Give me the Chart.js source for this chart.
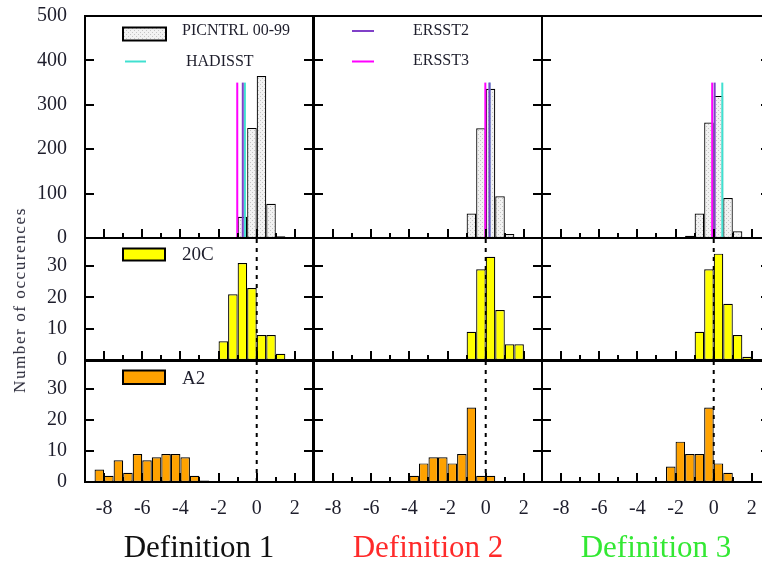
<!DOCTYPE html>
<html>
<head>
<meta charset="utf-8">
<script src="https://cdn.jsdelivr.net/npm/chart.js@4.4.1/dist/chart.umd.min.js"></script>
<style>
  html, body { margin: 0; padding: 0; background: #fff; }
  body { width: 762px; height: 563px; overflow: hidden; position: relative; font-family: "Liberation Serif", "Times New Roman", serif; }
  canvas { position: absolute; left: 0; top: 0; }
  .ytitle { position: absolute; left: 20px; top: 300px; transform: translate(-50%, -50%) rotate(-90deg);
            font-family: "Liberation Serif", "Times New Roman", serif;
            white-space: nowrap; font-size: 17px; letter-spacing: 1.6px; color: #2a2a3a; }
  .deftitle { position: absolute; top: 531px; width: 228px; text-align: center; font-size: 31px; line-height: 31px;
              font-family: "Liberation Serif", "Times New Roman", serif; white-space: nowrap; }
</style>
</head>
<body>
<div id="wrap"></div>
<div class="ytitle">Number of occurences</div>
<div class="deftitle" style="left:85px;color:#111;">Definition 1</div>
<div class="deftitle" style="left:314px;color:#ff2a2a;">Definition 2</div>
<div class="deftitle" style="left:542px;color:#33e833;">Definition 3</div>
<script>
// ===========================
// Data (bin centres, bin width 0.5)
// ===========================
const X_TICKS = [-8, -7, -6, -5, -4, -3, -2, -1, 0, 1, 2];
const X_LABELS = [-8, -6, -4, -2, 0, 2];

// PICNTRL 00-99 (top row)
const PI_D1_X = [-0.75, -0.25, 0.25, 0.75, 1.25];
const PI_D1_Y = [48, 248, 365, 77, 4];
const PI_D2_X = [-0.75, -0.25, 0.25, 0.75, 1.25];
const PI_D2_Y = [55, 247, 336, 94, 9];
const PI_D3_X = [-1.25, -0.75, -0.25, 0.25, 0.75, 1.25];
const PI_D3_Y = [5, 55, 260, 320, 90, 15];

// Observed values (vertical lines, top row), one per definition
const HADISST = [-0.62, 0.2, 0.45];
const ERSST2 = [-0.73, 0.2, 0.05];
const ERSST3 = [-1.02, -0.02, -0.08];
const OBS_HEIGHT = 350;

// 20C (middle row)
const C20_D1_X = [-1.75, -1.25, -0.75, -0.25, 0.25, 0.75, 1.25];
const C20_D1_Y = [6, 21, 31, 23, 8, 8, 2];
const C20_D2_X = [-0.75, -0.25, 0.25, 0.75, 1.25, 1.75];
const C20_D2_Y = [9, 29, 33, 16, 5, 5];
const C20_D3_X = [-0.75, -0.25, 0.25, 0.75, 1.25, 1.75];
const C20_D3_Y = [9, 29, 34, 18, 8, 1];

// A2 (bottom row)
const A2_D1_X = [-8.25, -7.75, -7.25, -6.75, -6.25, -5.75, -5.25, -4.75, -4.25, -3.75, -3.25, -2.75];
const A2_D1_Y = [4, 2, 7, 3, 9, 7, 8, 9, 9, 8, 2, 0.5];
const A2_D2_X = [-3.75, -3.25, -2.75, -2.25, -1.75, -1.25, -0.75, -0.25, 0.25];
const A2_D2_Y = [2, 6, 8, 8, 6, 9, 24, 2, 2];
const A2_D3_X = [-2.25, -1.75, -1.25, -0.75, -0.25, 0.25, 0.75];
const A2_D3_Y = [5, 13, 9, 9, 24, 6, 3];

const ROW_YMAX = [500, 39, 39];
const ROW_YTICKS = [[100, 200, 300, 400], [10, 20, 30], [10, 20, 30]];
const ROW_YLABELS = [[0, 100, 200, 300, 400, 500], [0, 10, 20, 30], [0, 10, 20, 30]];

// ===========================
// Layout
// ===========================
const CANVAS_W = 780, CANVAS_H = 563;
const COL_LEFT = [85, 314, 542];
const COL_W = 228;
const ROW_TOP = [16, 238, 361];
const ROW_BOTTOM = [238, 360, 482];
const X_MIN = -9, X_MAX = 2.95;

const TEXT_COLOR = '#1e1e2c';
const SERIF = '"Liberation Serif", "Times New Roman", serif';
const CYAN = '#40e0d0';
const PURPLE = '#8040c8';
const MAGENTA = '#ff00ff';
const YELLOW = '#ffff00';
const ORANGE = '#ffa200';

// dotted grey fill for the control run
function dotPattern() {
  const c = document.createElement('canvas');
  c.width = 4; c.height = 4;
  const g = c.getContext('2d');
  g.fillStyle = '#f2f2f2';
  g.fillRect(0, 0, 4, 4);
  g.fillStyle = '#c4c4c4';
  g.fillRect(0, 0, 1, 1);
  g.fillRect(2, 2, 1, 1);
  return g.createPattern(c, 'repeat');
}
const GREY_DOTS = dotPattern();

// ===========================
// Frame / ticks / legend plugin
// ===========================
const framePlugin = {
  id: 'frame',
  afterDraw(chart, args, o) {
    const { ctx, chartArea: a } = chart;
    const xs = chart.scales.x, ys = chart.scales.y;
    ctx.save();
    ctx.strokeStyle = '#000';
    ctx.lineWidth = 2;
    ctx.strokeRect(a.left, a.top, a.right - a.left, a.bottom - a.top);

    ctx.beginPath();
    o.yTicks.forEach(v => {
      const py = Math.round(ys.getPixelForValue(v));
      ctx.moveTo(a.left, py); ctx.lineTo(a.left + 9, py);
      ctx.moveTo(a.right, py); ctx.lineTo(a.right - 9, py);
    });
    X_TICKS.forEach(v => {
      const px = Math.round(xs.getPixelForValue(v));
      ctx.moveTo(px, a.bottom); ctx.lineTo(px, a.bottom - (v % 2 === 0 ? 9 : 5));
    });
    ctx.stroke();

    ctx.fillStyle = TEXT_COLOR;
    ctx.textBaseline = 'middle';
    if (o.showY) {
      ctx.font = '20px ' + SERIF;
      ctx.textAlign = 'right';
      o.yLabels.forEach(v => ctx.fillText(String(v), a.left - 18, ys.getPixelForValue(v)));
    }
    if (o.showX) {
      ctx.font = '20px ' + SERIF;
      ctx.textAlign = 'center';
      X_LABELS.forEach(v => ctx.fillText(String(v), xs.getPixelForValue(v), a.bottom + 27));
    }

    (o.legend || []).forEach(it => {
      if (it.kind === 'box') {
        ctx.fillStyle = it.fill;
        ctx.fillRect(it.x, it.y, it.w, it.h);
        ctx.lineWidth = 2;
        ctx.strokeStyle = '#000';
        ctx.strokeRect(it.x, it.y, it.w, it.h);
      } else {
        ctx.lineWidth = 2;
        ctx.strokeStyle = it.fill;
        ctx.beginPath();
        ctx.moveTo(it.x, it.y); ctx.lineTo(it.x + it.w, it.y);
        ctx.stroke();
      }
      ctx.fillStyle = TEXT_COLOR;
      ctx.font = it.size + 'px ' + SERIF;
      ctx.textAlign = 'left';
      ctx.fillText(it.label, it.tx, it.ty);
    });
    ctx.restore();
  }
};

// ===========================
// Build a panel
// ===========================
function barSet(xs, ys, fill) {
  return {
    type: 'bar',
    data: xs.map((x, i) => ({ x, y: ys[i] })),
    backgroundColor: fill,
    borderColor: '#000',
    borderWidth: 1.2,
    borderSkipped: false,
    inflateAmount: 0,
    grouped: false,
    barPercentage: 1,
    categoryPercentage: 1,
    order: 5
  };
}

function vline(x, top, color, order, dash) {
  return {
    type: 'line',
    data: [{ x, y: 0 }, { x, y: top }],
    borderColor: color,
    borderWidth: 2,
    borderDash: dash || [],
    pointRadius: 0,
    order
  };
}

function makePanel(row, col, datasets, legend) {
  const cv = document.createElement('canvas');
  cv.width = CANVAS_W; cv.height = CANVAS_H;
  document.getElementById('wrap').appendChild(cv);
  return new Chart(cv, {
    type: 'bar',
    data: { datasets },
    options: {
      responsive: false,
      animation: false,
      layout: {
        padding: {
          left: COL_LEFT[col],
          top: ROW_TOP[row],
          right: CANVAS_W - COL_LEFT[col] - COL_W,
          bottom: CANVAS_H - ROW_BOTTOM[row]
        }
      },
      plugins: {
        legend: { display: false },
        tooltip: { enabled: false },
        frame: {
          yTicks: ROW_YTICKS[row],
          yLabels: ROW_YLABELS[row],
          showY: col === 0,
          showX: row === 2,
          legend
        }
      },
      scales: {
        x: { type: 'linear', min: X_MIN, max: X_MAX, offset: false, display: false, ticks: { stepSize: 1 } },
        y: { min: 0, max: ROW_YMAX[row], display: false }
      }
    },
    plugins: [framePlugin]
  });
}

// ===========================
// Top row: control run + observations
// ===========================
const PI_X = [PI_D1_X, PI_D2_X, PI_D3_X];
const PI_Y = [PI_D1_Y, PI_D2_Y, PI_D3_Y];
const C20_X = [C20_D1_X, C20_D2_X, C20_D3_X];
const C20_Y = [C20_D1_Y, C20_D2_Y, C20_D3_Y];
const A2_X = [A2_D1_X, A2_D2_X, A2_D3_X];
const A2_Y = [A2_D1_Y, A2_D2_Y, A2_D3_Y];

const TOP_LEGENDS = [
  [
    { kind: 'box', fill: GREY_DOTS, x: 123, y: 27.5, w: 43, h: 13, label: 'PICNTRL 00-99', tx: 182, ty: 31, size: 16 },
    { kind: 'line', fill: CYAN, x: 125, y: 61.5, w: 21, label: 'HADISST', tx: 186, ty: 61.5, size: 16 }
  ],
  [
    { kind: 'line', fill: PURPLE, x: 352, y: 31, w: 22, label: 'ERSST2', tx: 413, ty: 31, size: 16 },
    { kind: 'line', fill: MAGENTA, x: 352, y: 61.5, w: 22, label: 'ERSST3', tx: 413, ty: 61, size: 16 }
  ],
  []
];

for (let c = 0; c < 3; c++) {
  makePanel(0, c, [
    barSet(PI_X[c], PI_Y[c], GREY_DOTS),
    vline(HADISST[c], OBS_HEIGHT, CYAN, 3),
    vline(ERSST3[c], OBS_HEIGHT, MAGENTA, 2),
    vline(ERSST2[c], OBS_HEIGHT, PURPLE, 1)
  ], TOP_LEGENDS[c]);
}

// ===========================
// Middle row: 20C, bottom row: A2
// ===========================
for (let c = 0; c < 3; c++) {
  makePanel(1, c, [
    barSet(C20_X[c], C20_Y[c], YELLOW),
    vline(0, ROW_YMAX[1], '#000', 9, [4, 5])
  ], c === 0 ? [{ kind: 'box', fill: YELLOW, x: 123, y: 248.5, w: 42, h: 12, label: '20C', tx: 182, ty: 255, size: 19 }] : []);

  makePanel(2, c, [
    barSet(A2_X[c], A2_Y[c], ORANGE),
    vline(0, ROW_YMAX[2], '#000', 9, [4, 5])
  ], c === 0 ? [{ kind: 'box', fill: ORANGE, x: 123, y: 370.5, w: 42, h: 13.5, label: 'A2', tx: 182, ty: 379, size: 19 }] : []);
}
</script>
</body>
</html>
